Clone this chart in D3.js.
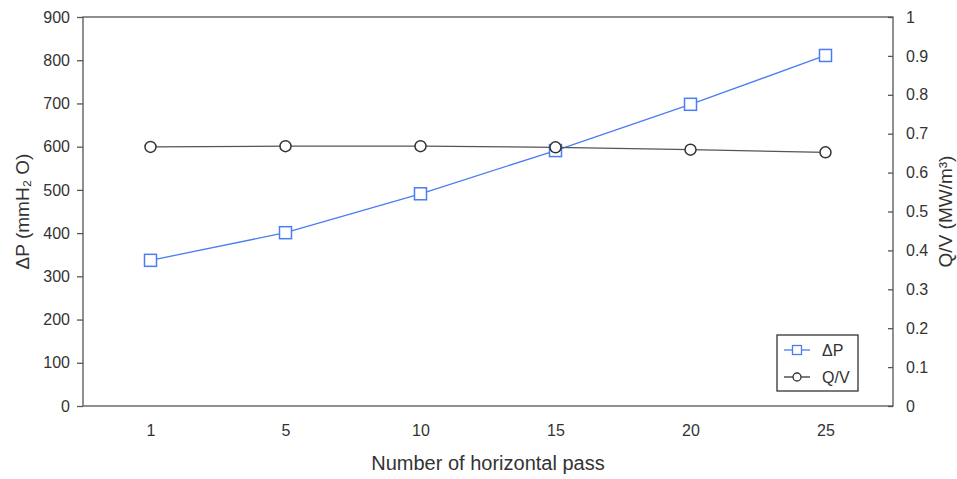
<!DOCTYPE html>
<html>
<head>
<meta charset="utf-8">
<script src="https://cdn.jsdelivr.net/npm/d3@7"></script>
<style>
  body { margin: 0; background: #fff; }
  text { font-family: "Liberation Sans", Arial, sans-serif; fill: #333; }
</style>
</head>
<body>
<div id="chart"></div>
<script>
// data
var passes = [1, 5, 10, 15, 20, 25];
var deltaP = [337, 401, 491, 591, 698, 811];
var qv = [0.666, 0.668, 0.668, 0.665, 0.659, 0.652];
var leftTicks = [0, 100, 200, 300, 400, 500, 600, 700, 800, 900];
var rightTicks = [0, 0.1, 0.2, 0.3, 0.4, 0.5, 0.6, 0.7, 0.8, 0.9, 1];

var W = 957, H = 479;
var margins = { left: 83, right: 64, top: 17, bottom: 73 };
var width = W - margins.left - margins.right,
    height = H - margins.top - margins.bottom;

var svg = d3.select('#chart').append('svg')
    .attr('width', W).attr('height', H);
var g = svg.append('g')
    .attr('transform', 'translate(' + margins.left + ',' + margins.top + ')');

var x = d3.scalePoint().domain(passes).range([0, width]).padding(0.5);
var yL = d3.scaleLinear().domain([0, 900]).range([height, 0]);
var yR = d3.scaleLinear().domain([0, 1]).range([height, 0]);

// frame
g.append('rect')
    .attr('width', width).attr('height', height)
    .attr('fill', 'none').attr('stroke', '#555').attr('stroke-width', 1.3);

var leftAxis = g.append('g')
    .call(d3.axisLeft(yL).tickValues(leftTicks).tickSize(6).tickPadding(7));
var rightAxis = g.append('g')
    .attr('transform', 'translate(' + width + ',0)')
    .call(d3.axisRight(yR).tickValues(rightTicks).tickSize(-5).tickPadding(13)
        .tickFormat(function(d) { return d === 0 || d === 1 ? d : d3.format('.1f')(d); }));
var bottomAxis = g.append('g')
    .attr('transform', 'translate(0,' + height + ')')
    .call(d3.axisBottom(x).tickSize(0).tickPadding(19));

[leftAxis, rightAxis, bottomAxis].forEach(function(a) {
    a.select('.domain').remove();
    a.selectAll('line').attr('stroke', '#555').attr('stroke-width', 1.3);
    a.selectAll('text').style('font-size', '16px').attr('fill', '#333')
        .style('font-family', '"Liberation Sans", Arial, sans-serif');
});

// axis titles
svg.append('text')
    .attr('transform', 'translate(29,' + (margins.top + height / 2) + ') rotate(-90)')
    .attr('text-anchor', 'middle')
    .style('font-size', '19px')
    .text('ΔP (mmH₂ O)');

svg.append('text')
    .attr('transform', 'translate(952,' + (margins.top + height / 2) + ') rotate(-90)')
    .attr('text-anchor', 'middle')
    .style('font-size', '19px')
    .text('Q/V (MW/m³)');

svg.append('text')
    .attr('x', margins.left + width / 2).attr('y', 470)
    .attr('text-anchor', 'middle')
    .style('font-size', '20px')
    .text('Number of horizontal pass');

var blue = '#4a7cf5', dark = '#555';

// ΔP series
var lineP = d3.line()
    .x(function(d, i) { return x(passes[i]); })
    .y(function(d) { return yL(d); });
g.append('path').datum(deltaP)
    .attr('d', lineP).attr('fill', 'none')
    .attr('stroke', blue).attr('stroke-width', 1.3);
g.selectAll('.sq').data(deltaP).enter().append('rect')
    .attr('class', 'sq')
    .attr('x', function(d, i) { return x(passes[i]) - 6; })
    .attr('y', function(d) { return yL(d) - 6; })
    .attr('width', 12).attr('height', 12)
    .attr('fill', '#fff').attr('stroke', blue).attr('stroke-width', 1.5);

// Q/V series
var lineQ = d3.line()
    .x(function(d, i) { return x(passes[i]); })
    .y(function(d) { return yR(d); });
g.append('path').datum(qv)
    .attr('d', lineQ).attr('fill', 'none')
    .attr('stroke', dark).attr('stroke-width', 1.3);
g.selectAll('.ci').data(qv).enter().append('circle')
    .attr('class', 'ci')
    .attr('cx', function(d, i) { return x(passes[i]); })
    .attr('cy', function(d) { return yR(d); })
    .attr('r', 5.5)
    .attr('fill', '#fff').attr('stroke', '#333').attr('stroke-width', 1.5);

// legend
var lg = svg.append('g').attr('transform', 'translate(777,335)');
lg.append('rect').attr('width', 81).attr('height', 56)
    .attr('fill', '#fff').attr('stroke', '#333').attr('stroke-width', 1.3);
lg.append('line').attr('x1', 7).attr('x2', 33).attr('y1', 15).attr('y2', 15)
    .attr('stroke', blue).attr('stroke-width', 1.3);
lg.append('rect').attr('x', 20 - 4.5).attr('y', 15 - 4.5).attr('width', 9).attr('height', 9)
    .attr('fill', '#fff').attr('stroke', blue).attr('stroke-width', 1.3);
lg.append('text').attr('x', 45).attr('y', 21).style('font-size', '16px').text('ΔP');
lg.append('line').attr('x1', 7).attr('x2', 33).attr('y1', 42).attr('y2', 42)
    .attr('stroke', '#333').attr('stroke-width', 1.3);
lg.append('circle').attr('cx', 20).attr('cy', 42).attr('r', 4)
    .attr('fill', '#fff').attr('stroke', '#333').attr('stroke-width', 1.3);
lg.append('text').attr('x', 45).attr('y', 48).style('font-size', '16px').text('Q/V');
</script>
</body>
</html>
